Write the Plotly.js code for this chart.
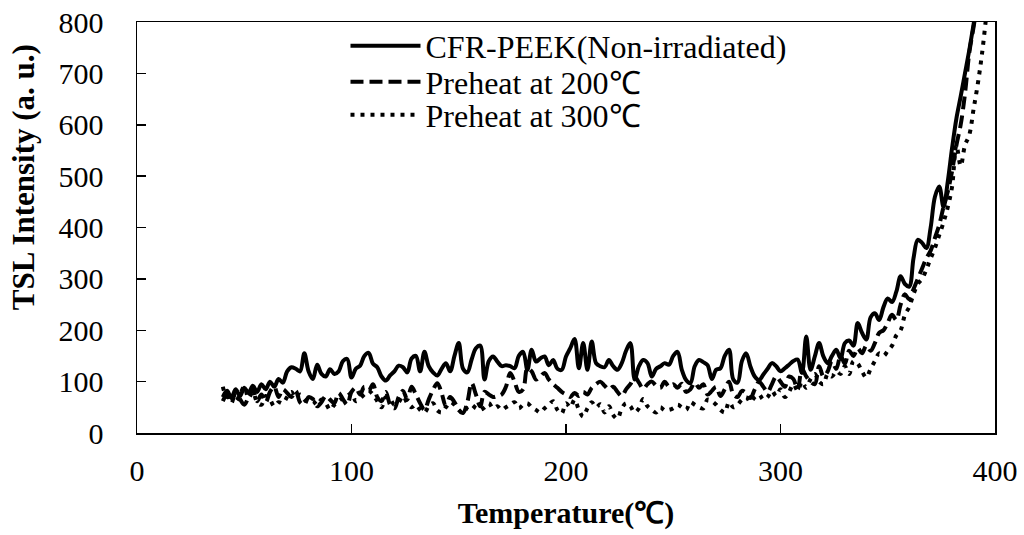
<!DOCTYPE html>
<html>
<head>
<meta charset="utf-8">
<script src="https://cdn.plot.ly/plotly-3.0.1.min.js"></script>
<style>html,body{margin:0;padding:0;background:#fff;}#chart{width:1024px;height:535px;}</style>
</head>
<body>
<div id="chart"></div>
<script>
// Temperature (°C), sampled every 2 °C from 40 to 396
const temperature = [40,42,44,46,48,50,52,54,56,58,60,62,64,66,68,70,72,74,76,78,80,82,84,86,88,90,92,94,96,98,
100,102,104,106,108,110,112,114,116,118,120,122,124,126,128,130,132,134,136,138,140,142,144,146,148,150,152,154,156,158,
160,162,164,166,168,170,172,174,176,178,180,182,184,186,188,190,192,194,196,198,200,202,204,206,208,210,212,214,216,218,
220,222,224,226,228,230,232,234,236,238,240,242,244,246,248,250,252,254,256,258,260,262,264,266,268,270,272,274,276,278,
280,282,284,286,288,290,292,294,296,298,300,302,304,306,308,310,312,314,316,318,320,322,324,326,328,330,332,334,336,338,
340,342,344,346,348,350,352,354,356,358,360,362,364,366,368,370,372,374,376,378,380,382,384,386,388,390,392,394,396];

// CFR-PEEK (Non-irradiated)
const nonIrradiated = [70,82,68,85,72,88,78,92,80,95,85,100,90,105,98,120,128,125,120,155,120,105,133,115,110,124,115,120,140,144,
108,125,131,150,156,135,128,110,102,112,120,131,128,118,145,150,120,158,130,118,112,125,136,120,150,175,125,118,143,165,
170,104,140,149,139,130,132,130,126,150,158,123,162,139,145,149,132,142,125,123,149,165,183,126,175,123,178,136,130,128,
142,130,123,136,160,175,104,130,142,136,110,125,130,136,133,150,158,123,103,97,130,142,138,132,105,123,126,150,162,104,
98,140,155,129,110,103,114,125,136,130,120,126,133,140,143,117,188,123,149,175,149,136,150,162,145,175,180,170,214,195,
182,225,233,220,245,262,255,275,305,290,285,340,376,370,360,400,460,480,440,490,555,612,655,700,745,795,850,900,960];

// Preheat at 200 °C
const preheat200 = [62,75,58,80,66,55,70,85,62,75,60,80,90,70,85,78,70,82,60,55,70,66,52,60,72,65,58,78,66,55,
80,88,75,90,82,95,70,62,80,55,48,70,82,65,90,75,58,45,65,84,97,78,52,70,60,45,39,60,97,75,
52,80,75,70,72,75,90,117,100,80,85,126,120,104,110,117,104,95,88,80,75,70,78,72,80,75,88,95,100,92,
85,90,80,72,85,95,110,98,86,95,100,92,88,100,90,95,88,96,80,85,98,88,95,75,82,90,72,85,100,75,
70,82,78,68,85,100,90,80,95,110,100,90,110,105,85,125,110,100,95,130,110,120,140,125,150,135,160,150,165,155,
170,160,175,195,200,215,230,220,250,270,260,280,300,320,340,355,380,405,440,470,510,560,600,660,740,790,845,900,960];

// Preheat at 300 °C
const preheat300 = [90,70,80,62,75,90,68,80,60,55,72,65,52,60,58,70,80,68,75,65,60,62,55,65,58,45,55,62,68,72,
78,62,68,75,82,75,62,50,70,66,55,60,72,58,50,55,45,40,52,58,44,40,50,60,55,45,38,50,55,48,
45,50,58,48,52,45,50,55,60,48,55,58,50,45,40,48,55,62,45,38,58,50,65,45,32,48,60,50,56,40,
52,35,28,48,58,52,40,48,66,52,45,40,50,44,45,48,55,50,45,60,55,50,48,65,62,55,45,40,60,50,
55,65,70,60,70,75,65,70,82,72,85,70,80,95,82,100,88,105,115,100,95,115,110,120,115,130,115,140,135,120,
108,125,140,155,150,160,170,190,200,230,245,270,290,300,318,340,360,385,410,440,480,560,520,560,580,630,680,740,815];

const seriesNames = ['CFR-PEEK(Non-irradiated)', 'Preheat at 200\u2103', 'Preheat at 300\u2103'];
const xTicks = [0, 100, 200, 300, 400];
const yTicks = [0, 100, 200, 300, 400, 500, 600, 700, 800];

const serif = 'Liberation Serif, Times New Roman, serif';

const traces = [
  {x: temperature, y: nonIrradiated, name: seriesNames[0], mode: 'lines', legend: 'legend',
   line: {color: '#000', width: 4, shape: 'spline', smoothing: 1}},
  {x: temperature, y: preheat200, name: seriesNames[1], mode: 'lines', legend: 'legend2',
   line: {color: '#000', width: 4, dash: '13px,6px', shape: 'spline', smoothing: 1}},
  {x: temperature, y: preheat300, name: seriesNames[2], mode: 'lines', legend: 'legend3',
   line: {color: '#000', width: 4, dash: '4px,6px', shape: 'spline', smoothing: 1}}
];

function legendBox(yPos) {
  return {x: 0.243, y: yPos, xanchor: 'left', yanchor: 'top', bgcolor: 'rgba(0,0,0,0)',
          font: {family: serif, size: 32, color: '#000'}, itemwidth: 70};
}

const layout = {
  width: 1024, height: 535,
  margin: {l: 137, r: 29, t: 22, b: 102},
  paper_bgcolor: '#fff', plot_bgcolor: '#fff',
  font: {family: serif, color: '#000', size: 30},
  showlegend: true,
  legend: legendBox(1.0085),
  legend2: legendBox(0.921),
  legend3: legendBox(0.8405),
  xaxis: {range: [0, 400], tickvals: xTicks, ticks: 'inside', ticklen: 9, tickwidth: 1.5, tickcolor: '#000',
          showline: true, linewidth: 1.5, linecolor: '#000', mirror: true, showgrid: false, zeroline: false,
          tickfont: {family: serif, size: 30, color: '#000'}, ticklabelstandoff: 10,
          title: {text: 'Temperature(\u2103)', font: {family: serif, size: 30, color: '#000', weight: 'bold'}, standoff: 16}},
  yaxis: {range: [0, 800], tickvals: yTicks, ticks: 'inside', ticklen: 9, tickwidth: 1.5, tickcolor: '#000',
          showline: true, linewidth: 1.5, linecolor: '#000', mirror: true, showgrid: false, zeroline: false,
          tickfont: {family: serif, size: 30, color: '#000'}, ticklabelstandoff: 26},
  annotations: [{text: 'TSL Intensity (a. u.)', xref: 'paper', yref: 'paper', x: -0.133, y: 0.622,
                 xanchor: 'center', yanchor: 'middle', textangle: -90, showarrow: false,
                 font: {family: serif, size: 31, color: '#000', weight: 'bold'}}]
};

Plotly.newPlot('chart', traces, layout, {displayModeBar: false, staticPlot: true});
</script>
</body>
</html>
